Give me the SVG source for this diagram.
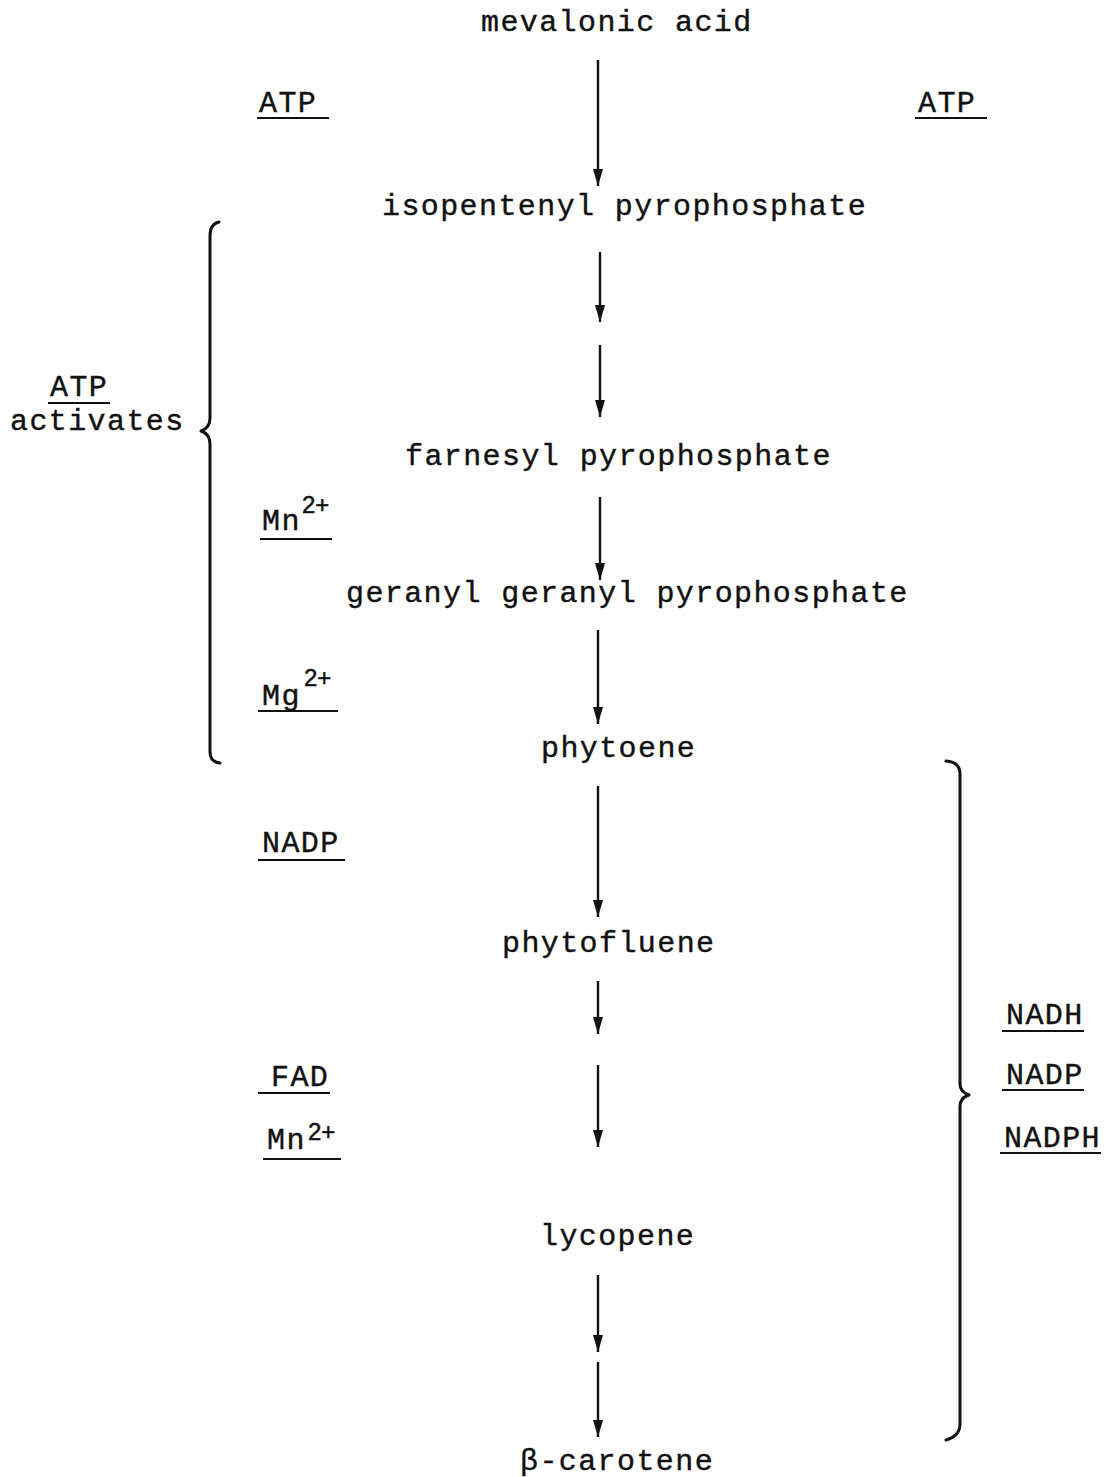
<svg xmlns="http://www.w3.org/2000/svg" width="1109" height="1477" viewBox="0 0 1109 1477">
<defs>
<marker id="ah" markerUnits="userSpaceOnUse" markerWidth="18" markerHeight="12" refX="17" refY="6" orient="auto" viewBox="0 0 18 12">
<path d="M0,1 L17,6 L0,11 Z" fill="#111"/>
</marker>
<style>
.t{font-family:"Liberation Mono","Courier New",monospace;font-size:30px;letter-spacing:1.4px;fill:#111;stroke:#111;stroke-width:0.4}
.s{font-family:"Liberation Sans",Arial,sans-serif;font-size:24px;fill:#111;stroke:#111;stroke-width:0.5}
.u{stroke:#111;stroke-width:2.2}
.a{stroke:#111;stroke-width:2.4;fill:none}
.b{stroke:#111;stroke-width:3;fill:none;stroke-linecap:round;stroke-linejoin:round}
</style>
</defs>
<rect width="1109" height="1477" fill="#fff"/>
<g id="connectors">
<line class="a" x1="598" y1="60" x2="598" y2="186" marker-end="url(#ah)"/>
<line class="a" x1="600" y1="252" x2="600" y2="322" marker-end="url(#ah)"/>
<line class="a" x1="600" y1="345" x2="600" y2="417" marker-end="url(#ah)"/>
<line class="a" x1="600" y1="497" x2="600" y2="580" marker-end="url(#ah)"/>
<line class="a" x1="598" y1="630" x2="598" y2="724" marker-end="url(#ah)"/>
<line class="a" x1="598" y1="786" x2="598" y2="917" marker-end="url(#ah)"/>
<line class="a" x1="598" y1="981" x2="598" y2="1034" marker-end="url(#ah)"/>
<line class="a" x1="598" y1="1065" x2="598" y2="1147" marker-end="url(#ah)"/>
<line class="a" x1="598" y1="1275" x2="598" y2="1352" marker-end="url(#ah)"/>
<line class="a" x1="598" y1="1362" x2="598" y2="1437" marker-end="url(#ah)"/>
</g>
<g id="brace-left">
<path class="b" d="M219,222 Q210,224 210,236 L210,418 Q210,428 201,431 Q210,434 210,444 L210,752 Q210,762 220,763"/>
</g>
<g id="brace-right">
<path class="b" d="M946,761 Q960,762 960,774 L960,1084 Q960,1092 969,1095 Q960,1098 960,1106 L960,1424 Q960,1436 946,1440"/>
</g>
<g id="mevalonic-acid"><text class="t" x="481" y="31">mevalonic acid</text></g>
<g id="atp-left"><text class="t" x="259" y="112">ATP</text><line class="u" x1="257" y1="118" x2="329" y2="118"/></g>
<g id="atp-right"><text class="t" x="918" y="112">ATP</text><line class="u" x1="915" y1="118" x2="987" y2="118"/></g>
<g id="isopentenyl-pyrophosphate"><text class="t" x="382" y="215">isopentenyl pyrophosphate</text></g>
<g id="atp-activates"><text class="t" x="50" y="396">ATP</text><line class="u" x1="48" y1="403" x2="110" y2="403"/><text class="t" x="10" y="430">activates</text></g>
<g id="farnesyl-pyrophosphate"><text class="t" x="405" y="465">farnesyl pyrophosphate</text></g>
<g id="mn-1"><text class="t" x="262" y="530">Mn</text><text class="s" x="302" y="513">2+</text><line class="u" x1="260" y1="539" x2="332" y2="539"/></g>
<g id="geranyl-geranyl-pyrophosphate"><text class="t" x="346" y="602">geranyl geranyl pyrophosphate</text></g>
<g id="mg"><text class="t" x="262" y="705">Mg</text><text class="s" x="304" y="686">2+</text><line class="u" x1="258" y1="711" x2="338" y2="711"/></g>
<g id="phytoene"><text class="t" x="541" y="757">phytoene</text></g>
<g id="nadp-left"><text class="t" x="262" y="852">NADP</text><line class="u" x1="258" y1="860" x2="345" y2="860"/></g>
<g id="phytofluene"><text class="t" x="502" y="952">phytofluene</text></g>
<g id="nadh"><text class="t" x="1006" y="1024">NADH</text><line class="u" x1="1002" y1="1031" x2="1084" y2="1031"/></g>
<g id="fad"><text class="t" x="271" y="1086">FAD</text><line class="u" x1="258" y1="1093" x2="330" y2="1093"/></g>
<g id="nadp-right"><text class="t" x="1006" y="1084">NADP</text><line class="u" x1="1002" y1="1090" x2="1084" y2="1090"/></g>
<g id="mn-2"><text class="t" x="267" y="1149">Mn</text><text class="s" x="308" y="1140">2+</text><line class="u" x1="263" y1="1159" x2="341" y2="1159"/></g>
<g id="nadph"><text class="t" x="1004" y="1147">NADPH</text><line class="u" x1="1000" y1="1153" x2="1101" y2="1153"/></g>
<g id="lycopene"><text class="t" x="540" y="1245">lycopene</text></g>
<g id="beta-carotene"><text class="t" x="520" y="1470">β-carotene</text></g>
</svg>
